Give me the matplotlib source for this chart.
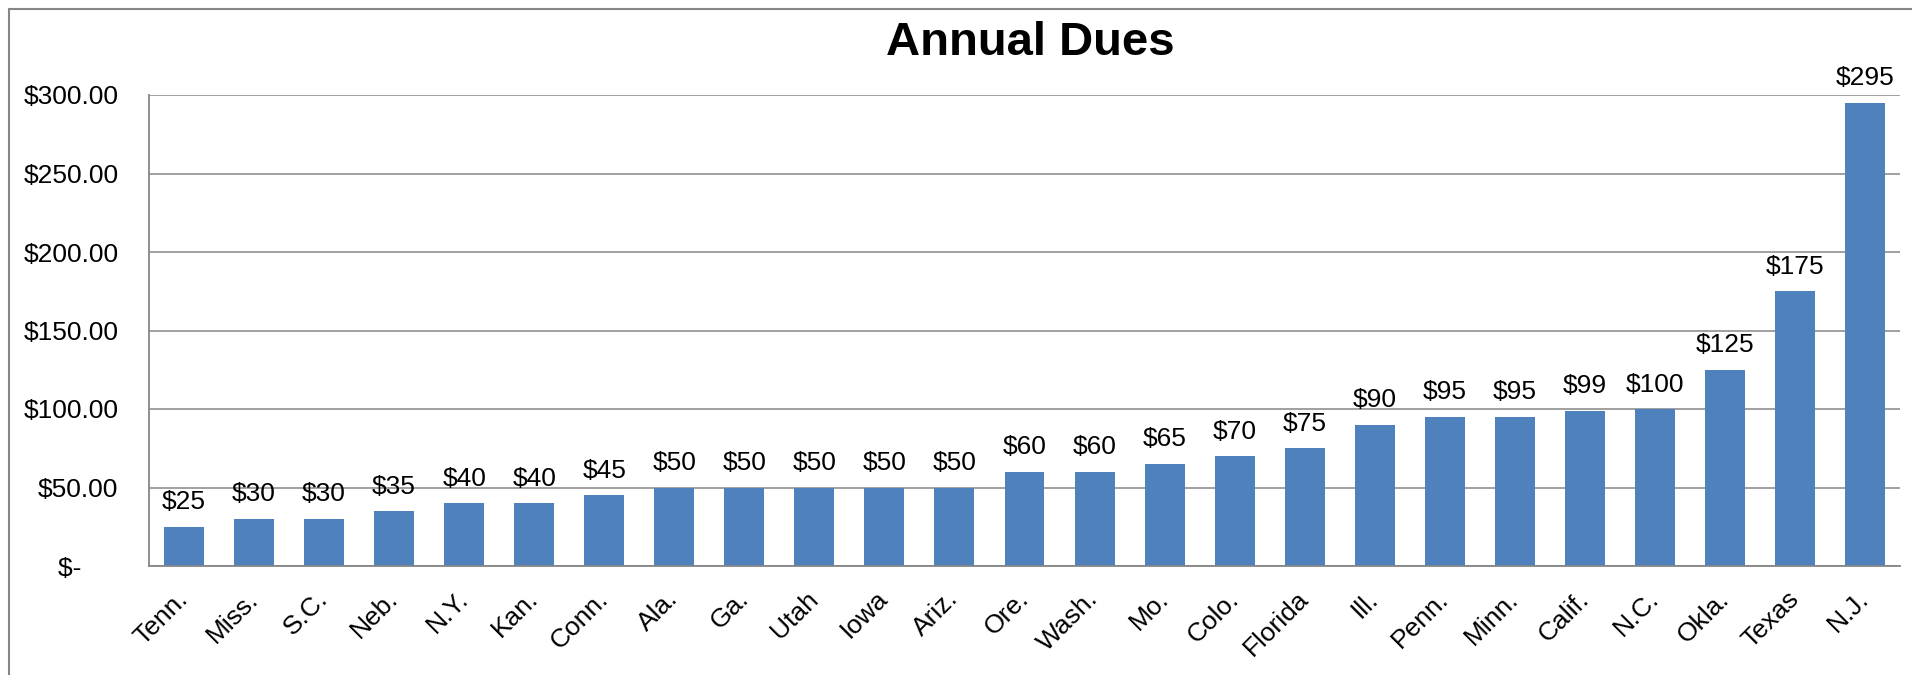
import matplotlib
matplotlib.use("Agg")
import matplotlib.pyplot as plt
from matplotlib.patches import Rectangle

plt.rcParams['font.family'] = ['Liberation Sans', 'DejaVu Sans']

# data
states = ['Tenn.', 'Miss.', 'S.C.', 'Neb.', 'N.Y.', 'Kan.', 'Conn.', 'Ala.', 'Ga.',
          'Utah', 'Iowa', 'Ariz.', 'Ore.', 'Wash.', 'Mo.', 'Colo.', 'Florida', 'Ill.',
          'Penn.', 'Minn.', 'Calif.', 'N.C.', 'Okla.', 'Texas', 'N.J.']
dues = [25, 30, 30, 35, 40, 40, 45, 50, 50, 50, 50, 50, 60, 60, 65, 70, 75, 90,
        95, 95, 99, 100, 125, 175, 295]
y_ticks = [0, 50, 100, 150, 200, 250, 300]
y_labels = ['$-     ', '$50.00', '$100.00', '$150.00', '$200.00', '$250.00', '$300.00']

W, H = 1912, 675
fig = plt.figure(figsize=(W / 100, H / 100), dpi=100)
ax = fig.add_axes([149 / W, 1 - 566 / H, (1900 - 149) / W, (566 - 95) / H])

grid_col = '#868686'
x = list(range(len(states)))
bars = ax.bar(x, dues, width=0.57, color='#4F81BD', zorder=3)

for xi, v in zip(x, dues):
    ax.annotate('$%d' % v, (xi, v), xytext=(0, 9), textcoords='offset points',
                ha='center', va='bottom', fontsize=19, color='black')

ax.set_xlim(-0.5, len(states) - 0.5)
ax.set_ylim(0, 300)
ax.set_yticks(y_ticks)
ax.set_yticklabels(y_labels, fontsize=19)
ax.set_xticks(x)
ax.set_xticklabels(states, fontsize=19, rotation=45, ha='right', va='center',
                   rotation_mode='anchor')
ax.tick_params(axis='y', length=0, pad=22)
ax.tick_params(axis='x', length=0, pad=21)

ax.grid(axis='y', color=grid_col, linewidth=1.1, zorder=0)
for s in ['top', 'right']:
    ax.spines[s].set_visible(False)
for s in ['left', 'bottom']:
    ax.spines[s].set_color(grid_col)
    ax.spines[s].set_linewidth(1.3)
    ax.spines[s].set_zorder(4)

fig.text(1030 / W, 1 - 43 / H, 'Annual Dues', ha='center', va='center',
         fontsize=34, fontweight='bold')

# chart area border
fig.patches.append(Rectangle((9 / W, -0.5), 2, 0.5 + (H - 9) / H, transform=fig.transFigure,
                             fill=False, edgecolor=grid_col, linewidth=1.5))

fig.savefig('out.png', dpi=100)
